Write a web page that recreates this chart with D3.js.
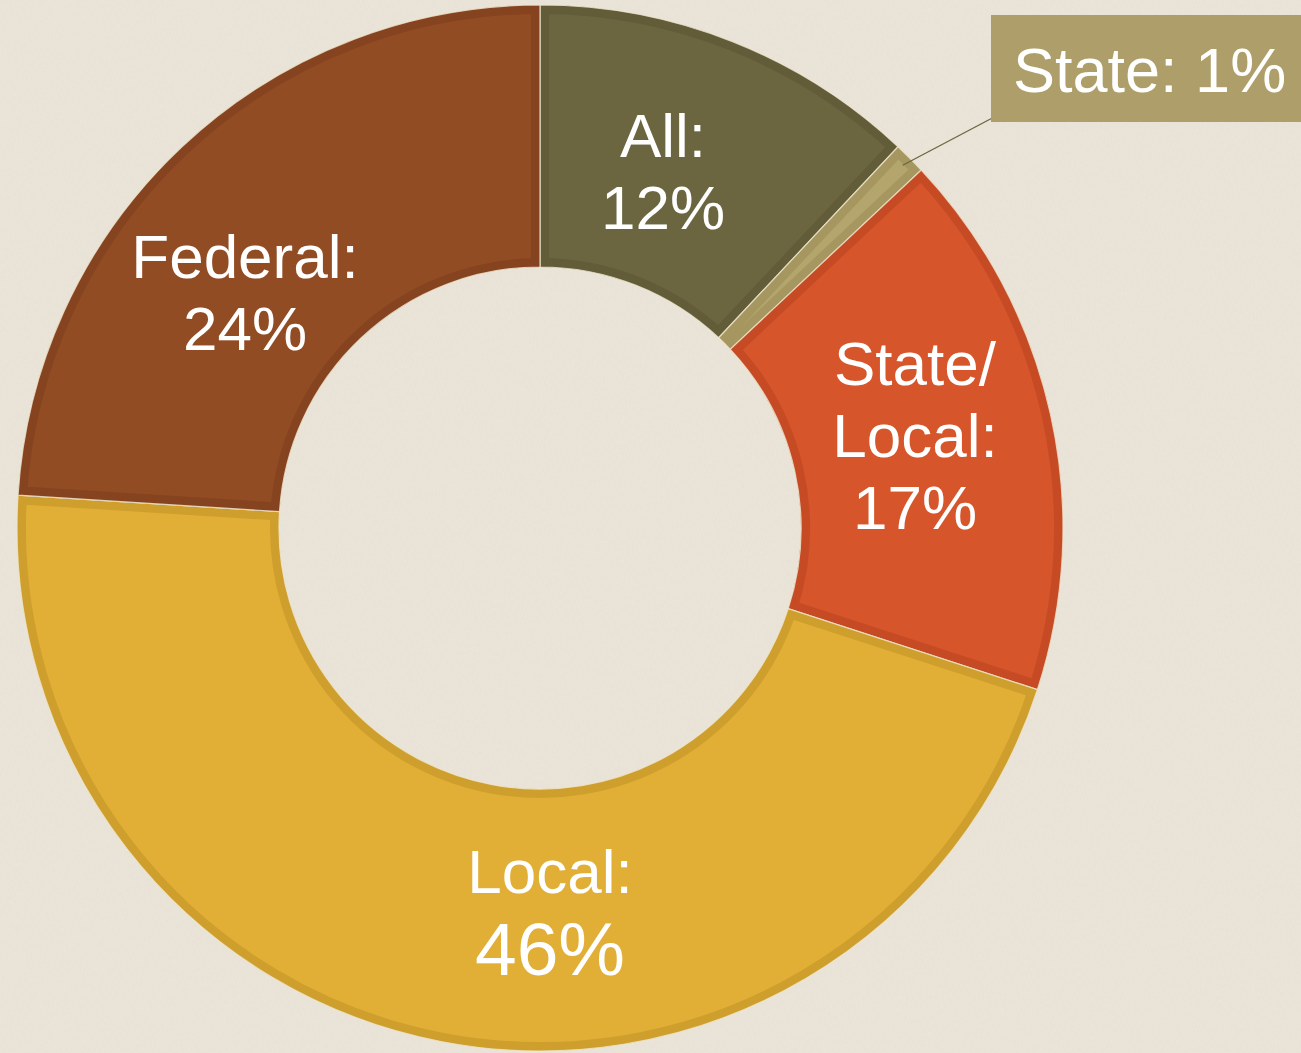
<!DOCTYPE html>
<html><head><meta charset="utf-8">
<script src="https://cdn.jsdelivr.net/npm/d3@7"></script>
<style>html,body{margin:0;padding:0;background:#e9e3d7;overflow:hidden}</style>
</head><body>
<svg id="c" width="1301" height="1053"></svg>
<script>
// ---- data ----
const categories = ["All", "State", "State/Local", "Local", "Federal"];
const values = [12, 1, 17, 46, 24];
const labelLines = [["All:", "12%"], ["State: 1%"], ["State/", "Local:", "17%"], ["Local:", "46%"], ["Federal:", "24%"]];

// ---- style / layout ----
const fills   = ["#6b6640", "#b3a56b", "#d6552b", "#e2af36", "#924c24"];
const borders = ["#625c39", "#a69760", "#c64b25", "#cf9f2d", "#86431f"];
const W = 1301, H = 1053, cx = 540, cy = 528, R = 523, r0 = 261;
const font = "'Liberation Sans', Arial, Helvetica, sans-serif";
const labelLayout = {
  "All":         {dx: 123,  dy: -371, lh: 72, sizes: [62, 62]},
  "State/Local": {dx: 375,  dy: -143, lh: 72, sizes: [62, 62, 62]},
  "Local":       {dx: 10,   dy: 365,  lh: 82, sizes: [62, 75]},
  "Federal":     {dx: -295, dy: -250, lh: 72, sizes: [62, 62]}
};

const svg = d3.select("#c");
const defs = svg.append("defs");

// background with subtle paper texture
const f = defs.append("filter").attr("id", "paper").attr("x", 0).attr("y", 0).attr("width", 1).attr("height", 1);
f.append("feTurbulence").attr("type", "fractalNoise").attr("baseFrequency", "0.9 0.25").attr("numOctaves", 2).attr("seed", 3).attr("result", "n");
f.append("feColorMatrix").attr("in", "n").attr("type", "matrix")
  .attr("values", "0 0 0 0 0.55  0 0 0 0 0.5  0 0 0 0 0.42  0 0 0 0.22 -0.06");
svg.append("rect").attr("width", W).attr("height", H).attr("fill", "#eae4d9");
svg.append("rect").attr("width", W).attr("height", H).attr("filter", "url(#paper)").attr("opacity", 0.5);

const data = categories.map((c, i) => ({cat: c, value: values[i], i}));
const pie = d3.pie().sort(null).value(d => d.value).startAngle(0).endAngle(2 * Math.PI);
const arcs = pie(data);
const arc = d3.arc().innerRadius(r0).outerRadius(R);

const g = svg.append("g").attr("transform", `translate(${cx},${cy})`);

arcs.forEach((a, k) => {
  defs.append("clipPath").attr("id", "clip" + k)
    .append("path").attr("d", arc(a));
});

const slice = g.selectAll("g.slice").data(arcs).join("g").attr("class", "slice");
slice.append("path").attr("d", arc)
  .attr("fill", d => fills[d.data.i]);
slice.append("path").attr("d", arc)
  .attr("fill", "none")
  .attr("stroke", d => borders[d.data.i])
  .attr("stroke-width", 18)
  .attr("stroke-linejoin", "miter")
  .attr("clip-path", (d, k) => `url(#clip${k})`);
// thin light separators
slice.append("path").attr("d", arc)
  .attr("fill", "none")
  .attr("stroke", "#efe6cf").attr("stroke-opacity", 0.85).attr("stroke-width", 1.2);

// inner labels
arcs.forEach(a => {
  const L = labelLayout[a.data.cat];
  if (!L) return;
  const t = g.append("text").attr("text-anchor", "middle").attr("fill", "#ffffff")
    .style("font-family", font);
  labelLines[a.data.i].forEach((line, j) => {
    t.append("tspan").attr("x", L.dx).attr("y", L.dy + j * L.lh)
      .style("font-size", L.sizes[j] + "px").text(line);
  });
});

// callout for the small "State" slice
const sa = arcs[1];
const mid = (sa.startAngle + sa.endAngle) / 2;
const pr = R - 10;
const px = cx + pr * Math.sin(mid), py = cy - pr * Math.cos(mid);
svg.append("line").attr("x1", px).attr("y1", py).attr("x2", 998).attr("y2", 115)
  .attr("stroke", "#6b6640").attr("stroke-width", 1.3);
svg.append("rect").attr("x", 991).attr("y", 15).attr("width", W - 991).attr("height", 107)
  .attr("fill", "#ae9f6a");
svg.append("text").attr("x", 1013).attr("y", 92).attr("fill", "#ffffff")
  .style("font-family", font).style("font-size", "63px").text(labelLines[1][0]);
</script>
</body></html>
